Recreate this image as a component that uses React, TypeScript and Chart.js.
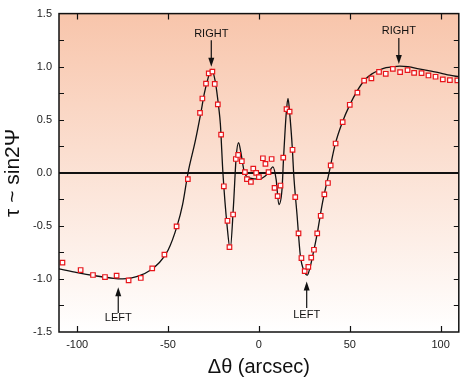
import React, { useEffect, useRef } from "react";
import { Chart, registerables } from "chart.js";

Chart.register(...registerables);

// Measured points (red open squares)
const pointX = [-108.1, -98.1, -91.3, -84.7, -78.3, -71.7, -65, -58.7, -52, -45.3, -39.1, -32.4, -31.1, -29.1, -27.6, -25.6, -24.3, -22.6, -20.8, -19.3, -17.3, -16.2, -14.2, -12.7, -11.4, -9.4, -7.7, -6.6, -4.4, -3.1, -1.5, 0, 2.2, 3.6, 5.3, 7, 8.6, 10.3, 11.9, 13.4, 15.2, 16.9, 18.5, 20, 21.8, 23.4, 25.2, 27.2, 28.8, 30.3, 32.1, 34, 36, 38, 39.5, 42.2, 46.1, 50, 54.2, 57.9, 61.9, 66.1, 69.8, 73.7, 77.7, 81.8, 85.4, 89.5, 93.3, 97.2, 101.2, 105.1, 109.2];
const pointY = [-0.846, -0.916, -0.963, -0.982, -0.969, -1.013, -0.991, -0.9, -0.771, -0.505, -0.059, 0.564, 0.7, 0.84, 0.936, 0.954, 0.837, 0.645, 0.36, -0.127, -0.452, -0.7, -0.393, 0.13, 0.168, 0.109, 0.006, -0.059, -0.086, 0.04, 0.0, -0.04, 0.137, 0.084, 0.006, 0.13, -0.142, -0.22, -0.12, 0.143, 0.6, 0.577, 0.217, -0.229, -0.57, -0.803, -0.926, -0.886, -0.8, -0.725, -0.57, -0.405, -0.204, -0.096, 0.069, 0.276, 0.477, 0.641, 0.756, 0.868, 0.889, 0.951, 0.933, 0.98, 0.948, 0.967, 0.942, 0.939, 0.917, 0.905, 0.88, 0.874, 0.871];

// Model curve (black line)
const curveX = [-110, -100, -90, -80, -75, -70, -65, -60, -55, -50, -45, -42, -39, -35, -32, -30, -28, -26.2, -24, -22, -21.2, -19.8, -17.5, -15.8, -14, -12.5, -11.2, -10, -7.9, -4.8, 0.3, 3.5, 5.3, 7.7, 9.5, 11, 12.7, 13.6, 15, 16, 17, 18.5, 19.1, 21, 22.8, 25, 26.6, 28, 30, 32, 35, 38.6, 42, 46, 50, 54, 58, 62, 66, 70, 74, 77.5, 82, 88, 94, 100, 105, 110];
const curveY = [-0.905, -0.94, -0.97, -0.995, -1.0, -0.99, -0.965, -0.92, -0.85, -0.73, -0.5, -0.3, 0.0, 0.3, 0.56, 0.75, 0.89, 0.975, 0.86, 0.6, 0.46, 0.0, -0.5, -0.72, -0.31, 0.15, 0.285, 0.2, 0.0, -0.05, -0.06, -0.03, 0.0, 0.055, -0.065, -0.3, -0.16, 0.15, 0.55, 0.7, 0.55, 0.2, 0.0, -0.4, -0.78, -0.93, -0.965, -0.9, -0.75, -0.58, -0.28, 0.0, 0.27, 0.48, 0.64, 0.77, 0.87, 0.93, 0.965, 0.99, 1.0, 1.005, 1.0, 0.98, 0.96, 0.94, 0.92, 0.905];

const xTickValues = [-100, -50, 0, 50, 100];

// Annotations: label, x, text y, arrow start y, arrow tip y
const annLabels = ["RIGHT", "RIGHT", "LEFT", "LEFT"];
const annX = [-26.2, 77, -77.4, 26.3];
const annTextY = [1.31, 1.335, -1.372, -1.344];
const annStartY = [1.25, 1.27, -1.32, -1.273];
const annTipY = [1.0, 1.026, -1.078, -1.025];

const FONT = "'Liberation Sans', Arial, sans-serif";

const decorPlugin = {
  id: "decor",
  beforeDraw(chart: any) {
    const { ctx, chartArea } = chart;
    const g = ctx.createLinearGradient(0, chartArea.top, 0, chartArea.bottom);
    g.addColorStop(0, "#f8c5ab");
    g.addColorStop(1, "#ffffff");
    ctx.save();
    ctx.fillStyle = g;
    ctx.fillRect(chartArea.left, chartArea.top, chartArea.right - chartArea.left, chartArea.bottom - chartArea.top);
    ctx.restore();
  },
  afterDraw(chart: any) {
    const { ctx, chartArea } = chart;
    const xs = chart.scales.x;
    const ys = chart.scales.y;
    ctx.save();
    ctx.strokeStyle = "#111";
    ctx.lineWidth = 1.5;
    ctx.strokeRect(chartArea.left, chartArea.top, chartArea.right - chartArea.left, chartArea.bottom - chartArea.top);
    ctx.lineWidth = 1.2;
    ctx.beginPath();
    xs.ticks.forEach((t: any) => {
      const px = Math.round(xs.getPixelForValue(t.value)) + 0.5;
      ctx.moveTo(px, chartArea.bottom);
      ctx.lineTo(px, chartArea.bottom - 6);
      ctx.moveTo(px, chartArea.top);
      ctx.lineTo(px, chartArea.top + 6);
    });
    ys.ticks.forEach((t: any) => {
      if (t.value <= ys.min || t.value >= ys.max) return;
      const py = Math.round(ys.getPixelForValue(t.value)) + 0.5;
      ctx.moveTo(chartArea.left, py);
      ctx.lineTo(chartArea.left + 5, py);
      ctx.moveTo(chartArea.right, py);
      ctx.lineTo(chartArea.right - 5, py);
    });
    ctx.stroke();

    // annotations
    ctx.font = `11px ${FONT}`;
    ctx.textAlign = "center";
    ctx.textBaseline = "middle";
    ctx.fillStyle = "#111";
    for (let i = 0; i < annLabels.length; i++) {
      const px = xs.getPixelForValue(annX[i]);
      const ty = ys.getPixelForValue(annTextY[i]);
      const sy = ys.getPixelForValue(annStartY[i]);
      const tip = ys.getPixelForValue(annTipY[i]);
      ctx.fillText(annLabels[i], px, ty);
      const dir = tip > sy ? 1 : -1;
      ctx.beginPath();
      ctx.lineWidth = 1.2;
      ctx.moveTo(px, sy);
      ctx.lineTo(px, tip - dir * 7);
      ctx.stroke();
      ctx.beginPath();
      ctx.moveTo(px, tip);
      ctx.lineTo(px - 3, tip - dir * 9);
      ctx.lineTo(px + 3, tip - dir * 9);
      ctx.closePath();
      ctx.fill();
    }
    ctx.restore();
  },
};

export default function App() {
  const ref = useRef<HTMLCanvasElement | null>(null);
  useEffect(() => {
    if (!ref.current) return;
    const points = pointX.map((x, i) => ({ x, y: pointY[i] }));
    const curve = curveX.map((x, i) => ({ x, y: curveY[i] }));
    const chart = new Chart(ref.current, {
      type: "scatter",
      data: {
        datasets: [
          {
            label: "data",
            data: points,
            pointStyle: "rect",
            pointRadius: 3.2,
            pointBorderColor: "#e8161b",
            pointBackgroundColor: "#ffffff",
            pointBorderWidth: 1.2,
            showLine: false,
          },
          {
            label: "model",
            data: curve,
            showLine: true,
            borderColor: "#111111",
            borderWidth: 1.3,
            pointRadius: 0,
            cubicInterpolationMode: "monotone",
          },
        ],
      },
      options: {
        animation: false,
        responsive: false,
        devicePixelRatio: 1,
        layout: { padding: { top: 7, right: 5, left: 0, bottom: 0 } },
        plugins: { legend: { display: false }, tooltip: { enabled: false } },
        scales: {
          x: {
            type: "linear",
            min: -110,
            max: 110,
            afterBuildTicks: (s: any) => {
              s.ticks = xTickValues.map((v) => ({ value: v }));
            },
            afterFit: (s: any) => {
              s.height = 48;
            },
            grid: { display: false, drawTicks: false },
            border: { display: false },
            ticks: {
              padding: 6,
              color: "#222",
              font: { family: FONT, size: 11 },
              maxRotation: 0,
              callback: (v: any) => String(v),
            },
            title: {
              display: true,
              text: "Δθ (arcsec)",
              color: "#111",
              font: { family: FONT, size: 20 },
              padding: { top: 0, bottom: 1 },
            },
          },
          y: {
            type: "linear",
            min: -1.5,
            max: 1.5,
            afterFit: (s: any) => {
              s.width = 59;
            },
            grid: {
              drawTicks: false,
              color: (c: any) => (c.tick && Math.abs(c.tick.value) < 1e-9 ? "#111" : "rgba(0,0,0,0)"),
              lineWidth: (c: any) => (c.tick && Math.abs(c.tick.value) < 1e-9 ? 2 : 0),
            },
            border: { display: false },
            ticks: {
              stepSize: 0.25,
              padding: 7,
              color: "#222",
              font: { family: FONT, size: 11 },
              callback: (v: any) => {
                const d = v * 2;
                return Math.abs(d - Math.round(d)) < 1e-6 ? Number(v).toFixed(1) : "";
              },
            },
            title: {
              display: true,
              text: "τ ~ sin2Ψ",
              color: "#111",
              font: { family: FONT, size: 21 },
              padding: { top: 1, bottom: 0 },
            },
          },
        },
      },
      plugins: [decorPlugin],
    } as any);
    return () => chart.destroy();
  }, []);
  return (
    <div style={{ position: "fixed", left: 0, top: 0, width: 464, height: 380, background: "#fff" }}>
      <canvas ref={ref} width={464} height={380} style={{ width: 464, height: 380, display: "block" }} />
    </div>
  );
}
